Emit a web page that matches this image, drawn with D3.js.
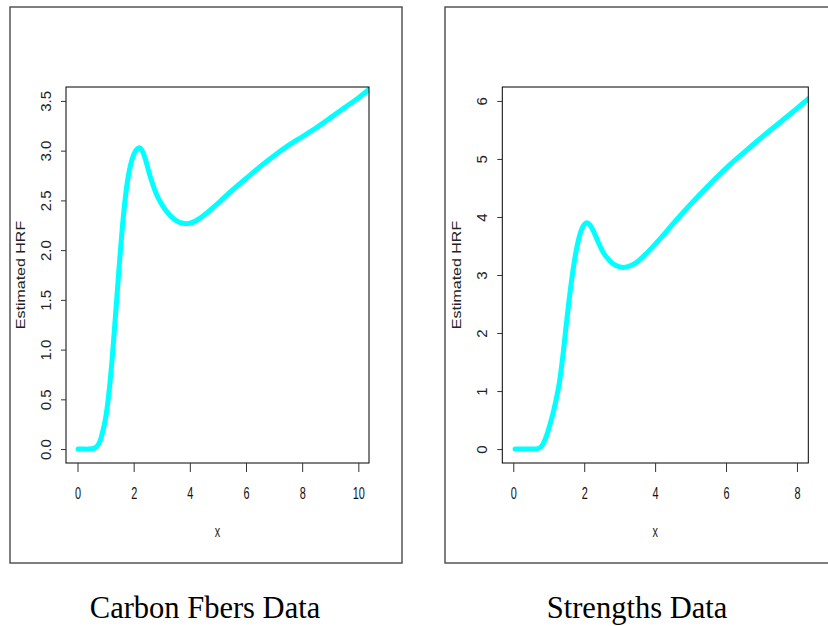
<!DOCTYPE html>
<html>
<head>
<meta charset="utf-8">
<script src="https://cdn.jsdelivr.net/npm/d3@7"></script>
<style>
  html, body { margin: 0; padding: 0; background: #fff; }
  svg { display: block; }
</style>
</head>
<body>
<svg id="chart" width="828" height="626"></svg>
<script>
// Estimated hazard rate function, Carbon Fibers data
const carbonX = [0.02, 0.2, 0.4, 0.6, 0.7, 0.8, 0.9, 1.0, 1.1, 1.2, 1.3, 1.4, 1.5, 1.6, 1.7, 1.8, 1.9, 2.0,
  2.1, 2.2, 2.3, 2.4, 2.5, 2.6, 2.8, 3.0, 3.2, 3.5, 3.75, 4.0, 4.25, 4.5, 5.0, 5.5, 6.0, 6.5, 7.0, 7.5,
  8.0, 8.5, 9.0, 9.5, 10.0, 10.4];
const carbonHRF = [0, 0, 0, 0.01, 0.03, 0.08, 0.18, 0.31, 0.52, 0.80, 1.15, 1.52, 1.90, 2.24, 2.52, 2.73, 2.87, 2.96,
  3.01, 3.03, 3.00, 2.93, 2.83, 2.73, 2.57, 2.46, 2.38, 2.30, 2.27, 2.27, 2.30, 2.35, 2.47, 2.60, 2.72, 2.84, 2.95, 3.05,
  3.14, 3.23, 3.33, 3.43, 3.53, 3.62];
const carbonXTicks = [0, 2, 4, 6, 8, 10];
const carbonYTicks = [0, 0.5, 1, 1.5, 2, 2.5, 3, 3.5];

// Estimated hazard rate function, Strengths data
const strengthX = [0.05, 0.3, 0.5, 0.7, 0.8, 0.9, 1.0, 1.1, 1.2, 1.3, 1.4, 1.5, 1.6, 1.7, 1.8, 1.9, 2.0, 2.07,
  2.15, 2.25, 2.4, 2.5, 2.6, 2.8, 3.0, 3.12, 3.3, 3.5, 3.75, 4.0, 4.25, 4.5, 5.0, 5.5, 6.0, 6.5, 7.0, 7.5, 8.0, 8.35];
const strengthHRF = [0, 0, 0, 0.01, 0.05, 0.17, 0.35, 0.57, 0.83, 1.15, 1.62, 2.18, 2.70, 3.15, 3.50, 3.74, 3.87, 3.90,
  3.87, 3.77, 3.56, 3.43, 3.33, 3.20, 3.14, 3.13, 3.16, 3.23, 3.37, 3.53, 3.70, 3.88, 4.22, 4.54, 4.84, 5.11, 5.37, 5.62, 5.87, 6.05];
const strengthXTicks = [0, 2, 4, 6, 8];
const strengthYTicks = [0, 1, 2, 3, 4, 5, 6];

const panelTitles = ["Carbon Fbers Data", "Strengths Data"];
const xLabel = "x";
const yLabel = "Estimated HRF";

const svg = d3.select("#chart");
const sansFont = "'Liberation Sans', Arial, Helvetica, sans-serif";
const serifFont = "'Liberation Serif', 'Times New Roman', Times, serif";

const panels = [
  {
    xs: carbonX, ys: carbonHRF, xTicks: carbonXTicks, yTicks: carbonYTicks,
    xDomain: [-0.41, 10.38], yDomain: [-0.14, 3.64],
    frame: { x: 10, y: 7, w: 392, h: 556 },
    plot: { left: 66, top: 87, right: 369, bottom: 463 },
    yFmt: d3.format(".1f"), title: panelTitles[0], titleX: 205
  },
  {
    xs: strengthX, ys: strengthHRF, xTicks: strengthXTicks, yTicks: strengthYTicks,
    xDomain: [-0.31, 8.32], yDomain: [-0.24, 6.24],
    frame: { x: 445, y: 7, w: 392, h: 556 },
    plot: { left: 502.3, top: 87, right: 808.3, bottom: 463 },
    yFmt: d3.format("d"), title: panelTitles[1], titleX: 637
  }
];

panels.forEach((p, i) => {
  const g = svg.append("g");
  const pl = p.plot;

  // outer device frame
  g.append("rect")
    .attr("x", p.frame.x).attr("y", p.frame.y)
    .attr("width", p.frame.w).attr("height", p.frame.h)
    .attr("fill", "none").attr("stroke", "#555").attr("stroke-width", 1.5);

  const x = d3.scaleLinear().domain(p.xDomain).range([pl.left, pl.right]);
  const y = d3.scaleLinear().domain(p.yDomain).range([pl.bottom, pl.top]);

  // clip region for the curve
  const clipId = "clip" + i;
  svg.append("clipPath").attr("id", clipId)
    .append("rect")
    .attr("x", pl.left).attr("y", pl.top)
    .attr("width", pl.right - pl.left).attr("height", pl.bottom - pl.top);

  const pts = p.xs.map((xv, k) => [xv, p.ys[k]]);
  const line = d3.line()
    .x(d => x(d[0])).y(d => y(d[1]))
    .curve(d3.curveCatmullRom.alpha(0.5));

  g.append("path")
    .attr("clip-path", `url(#${clipId})`)
    .attr("d", line(pts))
    .attr("fill", "none")
    .attr("stroke", "#00ffff")
    .attr("stroke-width", 5)
    .attr("stroke-linecap", "round")
    .attr("stroke-linejoin", "round");

  // plot box
  g.append("rect")
    .attr("x", pl.left).attr("y", pl.top)
    .attr("width", pl.right - pl.left).attr("height", pl.bottom - pl.top)
    .attr("fill", "none").attr("stroke", "#000").attr("stroke-width", 1);

  // x axis
  const xAxis = d3.axisBottom(x).tickValues(p.xTicks).tickSize(9).tickSizeOuter(0).tickFormat(d3.format("d"));
  const gx = g.append("g").attr("transform", `translate(0,${pl.bottom})`).call(xAxis);
  gx.select(".domain").remove();
  gx.selectAll(".tick line").attr("stroke", "#333");
  gx.selectAll(".tick text")
    .attr("y", 0).attr("dy", null)
    .attr("font-family", sansFont).attr("font-size", 17).attr("fill", "#111")
    .attr("transform", "translate(0,36) scale(0.64,1)");

  // y axis
  const yAxis = d3.axisLeft(y).tickValues(p.yTicks).tickSize(5).tickSizeOuter(0).tickFormat(p.yFmt);
  const gy = g.append("g").attr("transform", `translate(${pl.left},0)`).call(yAxis);
  gy.select(".domain").remove();
  gy.selectAll(".tick line").attr("stroke", "#333");
  gy.selectAll(".tick text")
    .attr("x", null).attr("dy", null)
    .attr("text-anchor", "middle")
    .attr("font-family", sansFont).attr("font-size", 15).attr("fill", "#222")
    .attr("transform", "translate(-15,0) rotate(-90)");

  // axis titles
  g.append("text")
    .attr("transform", `translate(${(pl.left + pl.right) / 2},537) scale(0.64,1)`)
    .attr("text-anchor", "middle")
    .attr("font-family", sansFont).attr("font-size", 17).attr("fill", "#222")
    .text(xLabel);

  g.append("text")
    .attr("transform", `translate(${pl.left - 41},${(pl.top + pl.bottom) / 2}) scale(0.85,1) rotate(-90)`)
    .attr("text-anchor", "middle")
    .attr("font-family", sansFont).attr("font-size", 16).attr("fill", "#222")
    .text(yLabel);

  // panel caption
  svg.append("text")
    .attr("x", p.titleX).attr("y", 618)
    .attr("text-anchor", "middle")
    .attr("font-family", serifFont).attr("font-size", 30.5).attr("fill", "#000")
    .text(p.title);
});
</script>
</body>
</html>
